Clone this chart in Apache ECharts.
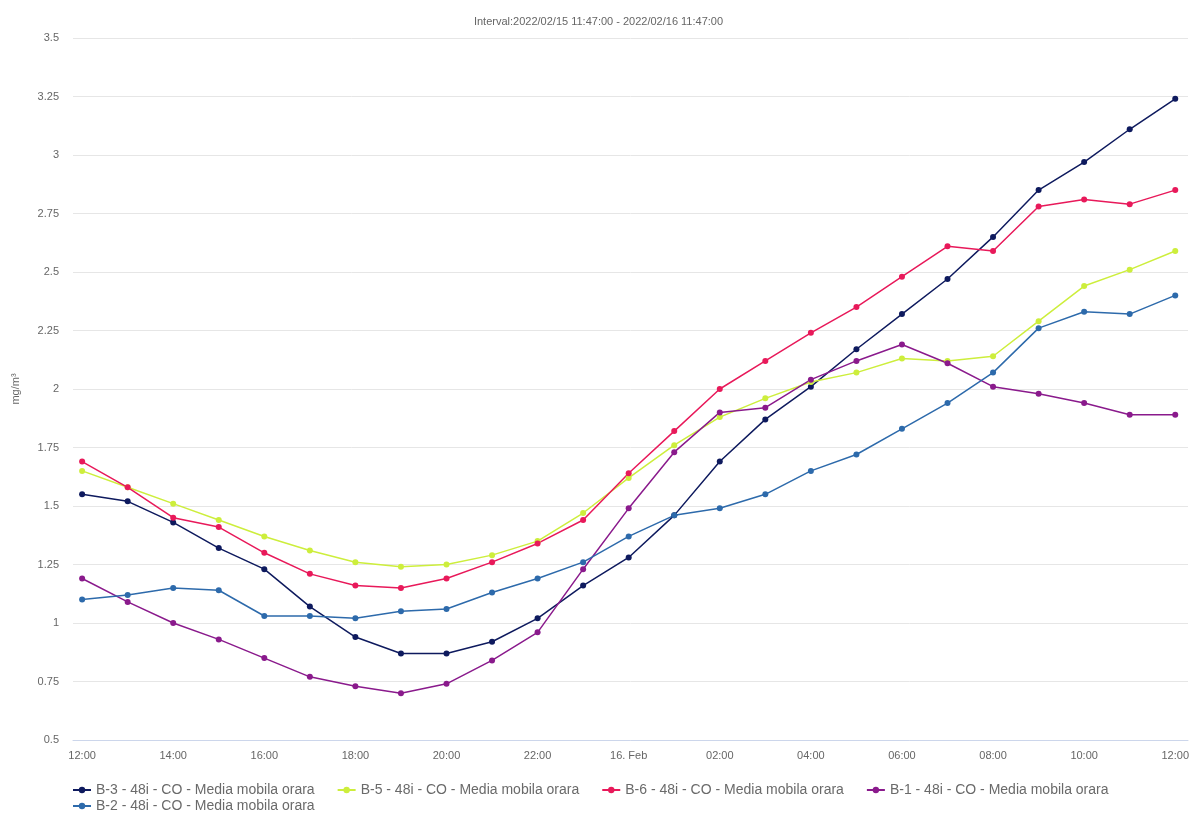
<!DOCTYPE html>
<html>
<head>
<meta charset="utf-8">
<script src="https://cdn.jsdelivr.net/npm/echarts@6/dist/echarts.min.js"></script>
<style>
html,body{margin:0;padding:0;background:#fff;}
#chart{width:1197px;height:815px;}
</style>
</head>
<body>
<div id="chart"></div>
<script>
var hours = [0,1,2,3,4,5,6,7,8,9,10,11,12,13,14,15,16,17,18,19,20,21,22,23,24];
var tickHours = [0,2,4,6,8,10,12,14,16,18,20,22,24];
var tickLabels = ['12:00','14:00','16:00','18:00','20:00','22:00','16. Feb','02:00','04:00','06:00','08:00','10:00','12:00'];

var b3 = [1.55,1.52,1.43,1.32,1.23,1.07,0.94,0.87,0.87,0.92,1.02,1.16,1.28,1.46,1.69,1.87,2.01,2.17,2.32,2.47,2.65,2.85,2.97,3.11,3.24];
var b5 = [1.65,1.58,1.51,1.44,1.37,1.31,1.26,1.24,1.25,1.29,1.35,1.47,1.62,1.76,1.88,1.96,2.03,2.07,2.13,2.12,2.14,2.29,2.44,2.51,2.59];
var b6 = [1.69,1.58,1.45,1.41,1.30,1.21,1.16,1.15,1.19,1.26,1.34,1.44,1.64,1.82,2.00,2.12,2.24,2.35,2.48,2.61,2.59,2.78,2.81,2.79,2.85];
var b1 = [1.19,1.09,1.00,0.93,0.85,0.77,0.73,0.70,0.74,0.84,0.96,1.23,1.49,1.73,1.90,1.92,2.04,2.12,2.19,2.11,2.01,1.98,1.94,1.89,1.89];
var b2 = [1.10,1.12,1.15,1.14,1.03,1.03,1.02,1.05,1.06,1.13,1.19,1.26,1.37,1.46,1.49,1.55,1.65,1.72,1.83,1.94,2.07,2.26,2.33,2.32,2.40];

var names = ['B-3 - 48i - CO - Media mobila orara','B-5 - 48i - CO - Media mobila orara','B-6 - 48i - CO - Media mobila orara','B-1 - 48i - CO - Media mobila orara','B-2 - 48i - CO - Media mobila orara'];
var colors = ['#0e1a5e','#cdee3c','#e8195a','#8a1a8c','#2d6aab'];
var values = [b3,b5,b6,b1,b2];

function pairs(v){ return hours.map(function(h,i){ return [h, v[i]]; }); }

var series = names.map(function(n,k){
  return {
    name:n, type:'line', data:pairs(values[k]),
    symbol:'circle', symbolSize:6, showSymbol:true,
    lineStyle:{width:1.5,color:colors[k]},
    itemStyle:{color:colors[k]},
    emphasis:{disabled:true}
  };
});

var font = 'Liberation Sans, Arial, sans-serif';
var legendText = {fontSize:14,color:'#6a6a6a',fontFamily:font};

var chart = echarts.init(document.getElementById('chart'));
chart.setOption({
  animation:false,
  color:colors,
  title:{text:'Interval:2022/02/15 11:47:00 - 2022/02/16 11:47:00', left:'center', top:11,
    textStyle:{fontSize:11,fontWeight:'normal',color:'#666',fontFamily:font}},
  grid:{left:73,right:9,top:38,bottom:75,containLabel:false},
  legend:[{
    data:names.slice(0,4), left:72, top:783, itemGap:22, itemWidth:18, itemHeight:8,
    textStyle:legendText, padding:0
  },{
    data:names.slice(4), left:72, top:799, itemGap:22, itemWidth:18, itemHeight:8,
    textStyle:legendText, padding:0
  }],
  xAxis:{
    type:'value', min:-0.2, max:24.28,
    axisLine:{show:true,lineStyle:{color:'#ccd6eb'}},
    axisTick:{show:false},
    splitLine:{show:false},
    axisLabel:{customValues:tickHours, color:'#666', fontSize:11, margin:10, fontFamily:font,
      formatter:function(v){ var i = tickHours.indexOf(Math.round(v)); return i>=0?tickLabels[i]:''; }}
  },
  yAxis:{
    type:'value', min:0.5, max:3.5, interval:0.25,
    name:'mg/m³', nameLocation:'middle', nameGap:52,
    nameTextStyle:{color:'#666',fontSize:11,fontFamily:font},
    axisLine:{show:false}, axisTick:{show:false},
    splitLine:{lineStyle:{color:'#e6e6e6'}},
    axisLabel:{color:'#666',fontSize:11,margin:14,fontFamily:font}
  },
  series:series
});
</script>
</body>
</html>
